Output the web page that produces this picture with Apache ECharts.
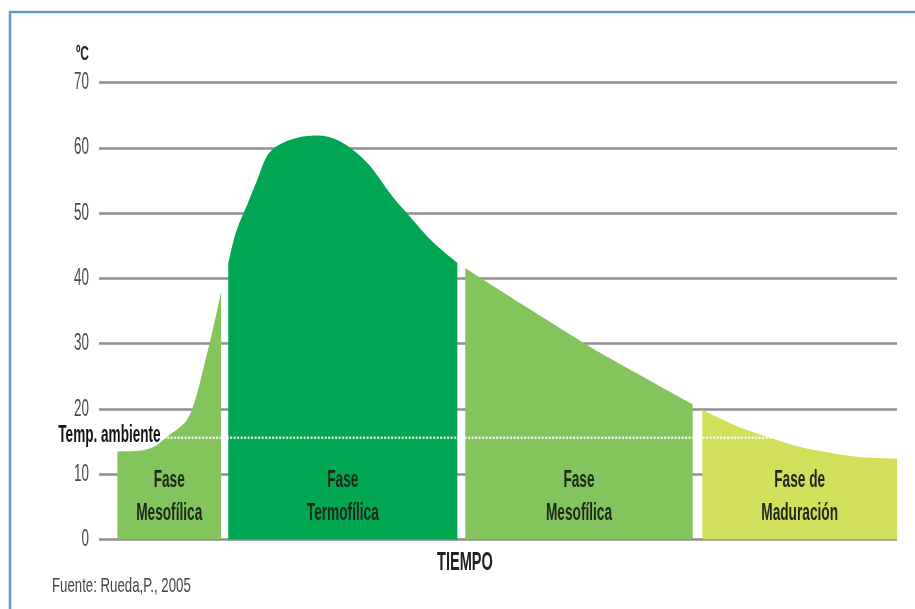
<!DOCTYPE html>
<html>
<head>
<meta charset="utf-8">
<style>
  html, body { margin: 0; padding: 0; background: #ffffff; }
  #chart { width: 915px; height: 609px; }
</style>
<script src="https://cdn.jsdelivr.net/npm/echarts@6/dist/echarts.min.js"></script>
</head>
<body>
<div id="chart"></div>
<script>
// Temperature (ºC) over composting time, one filled curve per phase.
// Time is in arbitrary units from 0 to 100.
const yTicks = [0, 10, 20, 30, 40, 50, 60, 70];

const faseMesofilica = [
  [2.3, 13.5], [5.0, 13.6], [7.0, 14.3], [8.0, 15.2], [9.0, 16.2],
  [10.0, 17.1], [11.0, 18.3], [12.0, 21.2], [13.0, 25.8], [14.0, 30.8],
  [15.0, 36.2], [15.3, 38.0]
];
const faseTermofilica = [
  [16.2, 42.2], [16.8, 45.5], [17.5, 48.2], [18.3, 50.5], [19.8, 55.0],
  [21.4, 59.3], [23.9, 61.2], [27.3, 61.9], [30.2, 61.0], [33.6, 57.7],
  [36.8, 52.5], [39.3, 49.0], [41.9, 45.5], [44.9, 42.4]
];
const faseMesofilica2 = [
  [45.9, 41.6], [52.8, 36.2], [62.8, 28.6], [74.4, 20.7]
];
const faseMaduracion = [
  [75.6, 19.9], [80.3, 17.2], [84.1, 15.6], [87.5, 14.3], [90.7, 13.5],
  [95.0, 12.7], [100, 12.4]
];

const phaseNames = [
  ['Fase', 'Mesofílica'],
  ['Fase', 'Termofílica'],
  ['Fase', 'Mesofílica'],
  ['Fase de', 'Maduración']
];

const ambientTemp = 15.6;
const ambientStart = 8.1;

const phases = [faseMesofilica, faseTermofilica, faseMesofilica2, faseMaduracion];
const phaseColors = ['#84c45c', '#00a651', '#84c45c', '#d2df5a'];
const phaseSmooth = [0.4, 0.35, 0.15, 0.35];

const FONT = "'Liberation Sans', Arial, sans-serif";
const SQUEEZE = 0.57;

const chart = echarts.init(document.getElementById('chart'), null, { renderer: 'canvas' });

const areaSeries = phases.map((data, i) => ({
  type: 'line',
  data: data,
  smooth: phaseSmooth[i],
  symbol: 'none',
  lineStyle: { width: 0, opacity: 0 },
  areaStyle: { color: phaseColors[i], opacity: 1, origin: 'start' },
  silent: true,
  z: 2
}));

const option = {
  animation: false,
  backgroundColor: '#ffffff',
  grid: { left: 99, right: 18, top: 82.5, bottom: 69.4, containLabel: false },
  xAxis: {
    type: 'value', min: 0, max: 100, show: false
  },
  yAxis: {
    type: 'value', min: 0, max: 70, interval: 10,
    axisLine: { show: false },
    axisTick: { show: false },
    axisLabel: { show: false },
    splitLine: { lineStyle: { color: '#8e8e8e', width: 2.5 } }
  },
  series: areaSeries.concat([{
    type: 'line',
    data: [[ambientStart, ambientTemp], [100, ambientTemp]],
    symbol: 'none',
    lineStyle: { color: '#ffffff', width: 2.5, type: [2, 1.5], opacity: 0.85 },
    silent: true,
    z: 5
  }])
};

chart.setOption(option);

function px(x, y) {
  return chart.convertToPixel({ xAxisIndex: 0, yAxisIndex: 0 }, [x, y]);
}

function txt(text, x, y, size, opts) {
  opts = opts || {};
  return {
    type: 'text',
    x: x, y: y,
    scaleX: opts.scaleX || SQUEEZE,
    z: 10,
    style: {
      text: text,
      fontFamily: FONT,
      fontSize: size,
      fontWeight: opts.weight || 'normal',
      fill: opts.color || '#222222',
      align: opts.align || 'center',
      verticalAlign: 'middle'
    }
  };
}

const graphics = [];

// frame
graphics.push({
  type: 'rect',
  shape: { x: 10, y: 12, width: 940, height: 640 },
  style: { fill: 'none', stroke: '#5b9bd5', lineWidth: 2.5 },
  z: 0
});

// y tick labels
yTicks.forEach(v => {
  const p = px(0, v);
  graphics.push(txt(String(v), 89, p[1], 24, { align: 'right', color: '#4a4a4a', scaleX: 0.56 }));
});
graphics.push(txt('ºC', 89, 54, 21, { align: 'right', color: '#222222', weight: 'bold' }));

// phase names, centred under each curve
phases.forEach((data, i) => {
  const cx = (data[0][0] + data[data.length - 1][0]) / 2;
  const p1 = px(cx, 9);
  const p2 = px(cx, 4);
  graphics.push(txt(phaseNames[i][0], p1[0], p1[1], 24, { weight: 'bold', color: '#1f261c' }));
  graphics.push(txt(phaseNames[i][1], p2[0], p2[1], 24, { weight: 'bold', color: '#1f261c' }));
});

// ambient temperature label
const pa = px(ambientStart, ambientTemp);
graphics.push(txt('Temp. ambiente', pa[0] - 3, pa[1] - 2, 23, { align: 'right', weight: 'bold', color: '#141414', scaleX: 0.59 }));

// axis title and source
graphics.push(txt('TIEMPO', 465, 563, 26, { weight: 'bold', color: '#222222', scaleX: 0.56 }));
graphics.push(txt('Fuente: Rueda,P., 2005', 52, 586, 21, { align: 'left', color: '#444444', scaleX: 0.63 }));

chart.setOption({ graphic: graphics });
</script>
</body>
</html>
